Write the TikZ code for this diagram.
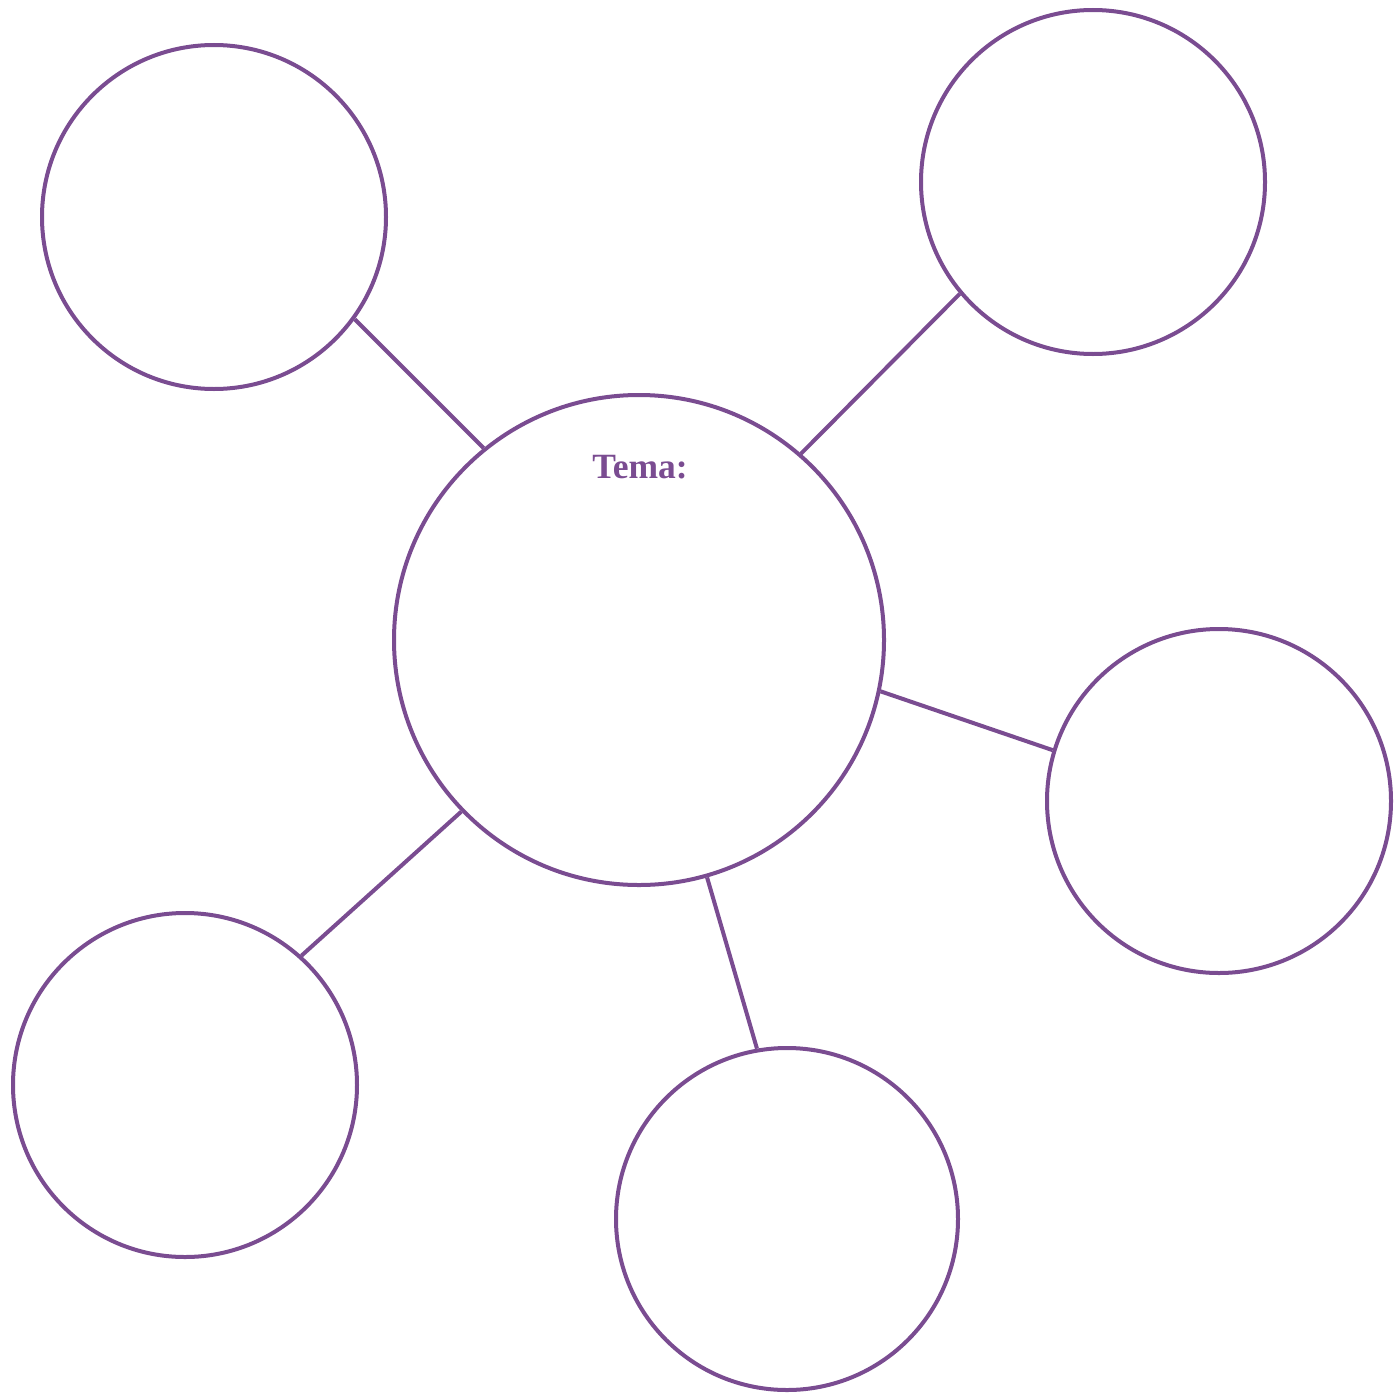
\documentclass[tikz,border=0pt]{standalone}
\usepackage{fontspec}
\setmainfont{Liberation Serif}
\definecolor{plum}{HTML}{7A4C91}
\begin{document}
\begin{tikzpicture}[x=1pt,y=-1pt,
  bubble/.style={circle,draw=plum,line width=4pt,inner sep=0pt,minimum size=#1},
  link/.style={draw=plum,line width=4pt}]
\useasboundingbox (0,0) rectangle (1399,1394);
\node[bubble=490pt] (c) at (639,640) {};
\node[bubble=344pt] (tl) at (214,217) {};
\node[bubble=344pt] (tr) at (1093,182) {};
\node[bubble=344pt] (r) at (1219,801) {};
\node[bubble=342pt] (br) at (787,1219) {};
\node[bubble=344pt] (bl) at (185,1085) {};
\node[text=plum,font=\fontsize{35.5}{40}\selectfont\bfseries,anchor=base] (t) at (640,478) {Tema:};
\draw[link] (c.129.4) -- (tl.-36.3);
\draw[link] (c.49.3) -- (tr.220.1);
\draw[link] (c.-12.2) -- (r.163.3);
\draw[link] (c.-74.4) -- (br.100.7);
\draw[link] (c.224.2) -- (bl.48.5);
\end{tikzpicture}
\end{document}
